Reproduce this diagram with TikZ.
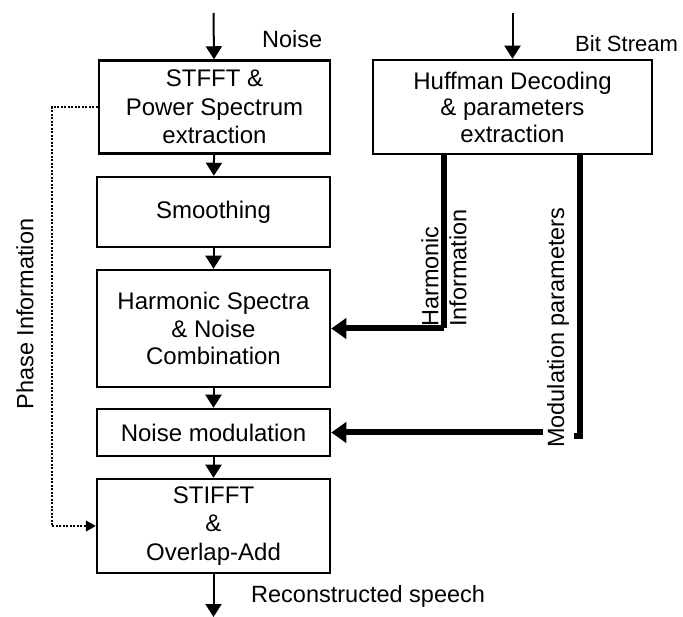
\documentclass[tikz,border=0pt]{standalone}
\usepackage{fontspec}
\setmainfont{Liberation Sans}
\usetikzlibrary{arrows.meta}
\begin{document}
\begin{tikzpicture}[x=1pt,y=-1pt,
  box/.style={draw, line width=2.5pt, minimum width=233pt, align=center, inner sep=0pt,
    font=\fontsize{24}{27.5}\selectfont},
  arr/.style={line width=2pt, -{Triangle[length=13pt,width=16pt]}},
  thickl/.style={line width=6pt},
  thickarr/.style={line width=6pt, -{Triangle[length=15pt,width=20pt]}},
  dotl/.style={line width=1.2pt, dash pattern=on 2pt off 1.5pt},
  dotarr/.style={dotl, -{Triangle[length=10pt,width=11pt]}},
  lbl/.style={font=\fontsize{23.5}{28}\selectfont, inner sep=0pt}
]
\useasboundingbox (0,0) rectangle (683,617);
\fill[white] (0,0) rectangle (683,617);

\node[box, minimum width=231pt, minimum height=93pt, font=\fontsize{24}{28.5}\selectfont] (b1) at (214.5,107) {STFFT \&\\Power Spectrum\\extraction};
\node[box, minimum height=70pt] (b2) at (213.5,212) {Smoothing};
\node[box, minimum height=117pt] (b3) at (213.5,328.5) {Harmonic Spectra\\\& Noise\\Combination};
\node[box, minimum height=47pt] (b4) at (213.5,432.5) {Noise modulation};
\node[box, minimum height=94pt, font=\fontsize{24}{28.5}\selectfont] (b5) at (213.5,526) {STIFFT\\\&\\Overlap-Add};
\node[box, minimum width=279pt, minimum height=94pt, font=\fontsize{24}{26.5}\selectfont] (huf) at (512.5,107) {Huffman Decoding\\\& parameters\\extraction};

\coordinate (in1) at (213.5,13);
\coordinate (in2) at (512.5,13);
\coordinate (out) at (213.5,617);
\coordinate (hx) at (444,0);
\coordinate (mx) at (580,0);
\coordinate (mfoot) at (574,436);
\coordinate (mstart) at (543,432.5);
\coordinate (px) at (52,0);

\draw[arr] (in1) -- (b1);
\draw[arr] (in2) -- (huf);
\draw[arr] (b1) -- (b2);
\draw[arr] (b2) -- (b3);
\draw[arr] (b3) -- (b4);
\draw[arr] (b4) -- (b5);
\draw[arr] (b5) -- (out);

\draw[dotl] (b1.west) -- (b1.west -| px) -- (b5.west -| px);
\draw[dotarr] (b5.west -| px) -- (b5.west);

\draw[thickl] (huf.south -| hx) -- (b3.east -| hx);
\draw[thickarr] (b3.east -| hx) -- (b3.east);
\draw[thickl] (huf.south -| mx) -- (mfoot -| mx) -- (mfoot);
\draw[thickarr] (mstart) -- (b4.east);

\node[lbl, anchor=west] (lnoise) at (262,39) {Noise};
\node[lbl, anchor=west, font=\fontsize{22}{26}\selectfont] (lbit) at (575,44) {Bit Stream};
\node[lbl, anchor=west] (lrec) at (251,596) {Reconstructed speech};
\node[lbl, rotate=90] (lphase) at (25,314) {Phase Information};
\node[lbl, rotate=90, anchor=west, align=left] (lharm) at (444,327) {Harmonic\\Information};
\node[lbl, rotate=90, anchor=west] (lmod) at (558,448) {Modulation parameters};
\end{tikzpicture}
\end{document}
